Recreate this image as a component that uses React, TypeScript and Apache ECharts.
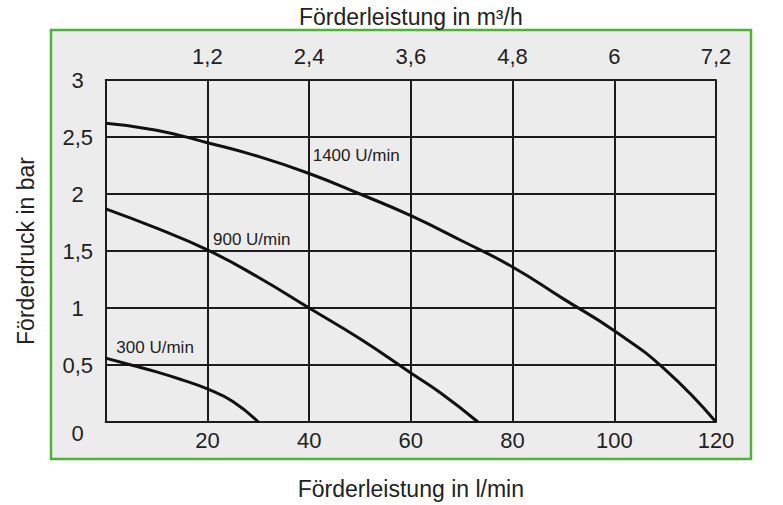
import * as echarts from "echarts";
import { useEffect, useRef } from "react";

// Förderleistung (l/min) and Förderdruck (bar) for each speed
const flow1400 = [0, 10, 20, 30, 40, 50, 60, 70, 80, 90, 100, 110, 120];
const pressure1400 = [2.62, 2.56, 2.45, 2.33, 2.18, 2.0, 1.81, 1.59, 1.36, 1.08, 0.8, 0.46, 0];
const flow900 = [0, 10, 20, 30, 40, 50, 60, 66, 73.2];
const pressure900 = [1.87, 1.7, 1.51, 1.27, 1.0, 0.73, 0.43, 0.25, 0];
const flow300 = [0, 5, 10, 15, 20, 25, 30];
const pressure300 = [0.56, 0.5, 0.44, 0.37, 0.29, 0.18, 0];

const curveNames = ["1400 U/min", "900 U/min", "300 U/min"];
// where each curve's name sits [l/min, bar]
const curveLabelAt = [
  [40.6, 2.34],
  [21.0, 1.6],
  [2.0, 0.656],
];

const bottomTickLabels = ["", "20", "40", "60", "80", "100", "120"];
const topTickLabels = ["", "1,2", "2,4", "3,6", "4,8", "6", "7,2"];
const yTickLabels = ["0", "0,5", "1", "1,5", "2", "2,5", "3"];

const textColor = "#222222";
const gridColor = "#1c1c1c";
const curveColor = "#111111";
const fontFamily = "'Liberation Sans', Arial, sans-serif";

const zip = (xs: number[], ys: number[]) => xs.map((x, i) => [x, ys[i]]);

export default function App() {
  const ref = useRef<HTMLDivElement | null>(null);

  useEffect(() => {
    document.body.style.margin = "0";
    if (!ref.current) return;
    const chart = echarts.init(ref.current, null, { renderer: "svg" });
    const lineOf = (name: string, data: number[][], labelAt: number[]) => ({
      name,
      type: "line",
      data,
      smooth: 0.5,
      symbol: "none",
      lineStyle: { color: curveColor, width: 3 },
      markPoint: {
        symbol: "circle",
        symbolSize: 1,
        itemStyle: { color: "rgba(0,0,0,0)" },
        label: {
          show: true,
          position: "right",
          distance: 0,
          color: textColor,
          fontSize: 17,
          fontFamily,
          formatter: name,
        },
        data: [{ coord: labelAt }],
      },
    });
    const axisLine = { show: true, lineStyle: { color: gridColor, width: 2 } };
    const splitLine = { show: true, lineStyle: { color: gridColor, width: 2 } };

    chart.setOption({
      animation: false,
      textStyle: { fontFamily },
      graphic: [
        {
          type: "rect",
          z: -10,
          shape: { x: 51, y: 30, width: 700, height: 429 },
          style: { fill: "#ececec", stroke: "#4db336", lineWidth: 2.5 },
        },
      ],
      grid: { left: 105.7, right: 67, top: 76.7, bottom: 82.7 },
      xAxis: [
        {
          type: "value",
          position: "bottom",
          min: 0,
          max: 120,
          interval: 20,
          name: "Förderleistung in l/min",
          nameLocation: "middle",
          nameGap: 55,
          nameTextStyle: { color: textColor, fontSize: 23, fontFamily },
          axisLine,
          axisTick: { show: false },
          splitLine,
          axisLabel: {
            color: textColor,
            fontSize: 22,
            margin: 7,
            formatter: (v: number) => bottomTickLabels[Math.round(v / 20)] ?? "",
          },
        },
        {
          type: "value",
          position: "top",
          min: 0,
          max: 120,
          interval: 20,
          name: "Förderleistung in m³/h",
          nameLocation: "middle",
          nameGap: 52,
          nameTextStyle: { color: textColor, fontSize: 23, fontFamily },
          axisLine,
          axisTick: { show: false },
          splitLine: { show: false },
          axisLabel: {
            color: textColor,
            fontSize: 22,
            margin: 13,
            formatter: (v: number) => topTickLabels[Math.round(v / 20)] ?? "",
          },
        },
      ],
      yAxis: {
        type: "value",
        min: 0,
        max: 3,
        interval: 0.5,
        name: "Förderdruck in bar",
        nameLocation: "middle",
        nameGap: 68,
        nameTextStyle: { color: textColor, fontSize: 23, fontFamily },
        axisLine,
        axisTick: { show: false },
        splitLine,
        axisLabel: {
          color: textColor,
          fontSize: 22,
          align: "center",
          margin: 28,
          formatter: (v: number) => {
            const i = Math.round(v / 0.5);
            return i === 0 ? `{z|${yTickLabels[0]}}` : yTickLabels[i] ?? "";
          },
          rich: { z: { fontSize: 22, color: textColor, padding: [22, 0, 0, 0] } },
        },
      },
      series: [
        lineOf(curveNames[0], zip(flow1400, pressure1400), curveLabelAt[0]),
        lineOf(curveNames[1], zip(flow900, pressure900), curveLabelAt[1]),
        lineOf(curveNames[2], zip(flow300, pressure300), curveLabelAt[2]),
      ],
    });
    return () => chart.dispose();
  }, []);

  return <div ref={ref} style={{ width: 783, height: 505 }} />;
}
